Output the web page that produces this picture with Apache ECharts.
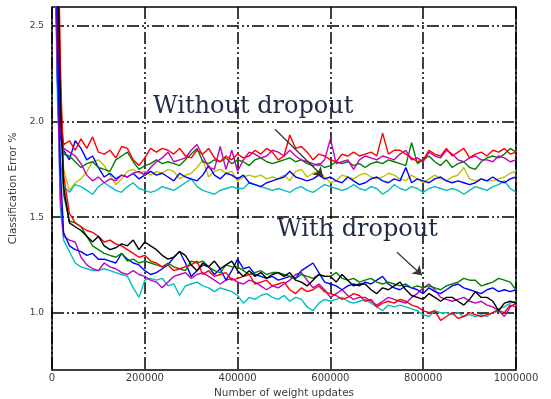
<!DOCTYPE html>
<html>
<head>
<meta charset="utf-8">
<script src="https://cdn.jsdelivr.net/npm/echarts@6/dist/echarts.min.js"></script>
<style>
  html, body { margin: 0; padding: 0; background: #fff; }
  #chart { width: 551px; height: 399px; }
</style>
</head>
<body>
<div id="chart"></div>
<script>
// Sample positions (number of weight updates) shared by every run
const updates = [0, 6000, 12000, 18000, 25000, 37500, 50000, 62500, 75000, 87500,
  100000, 112500, 125000, 137500, 150000, 162500, 175000, 187500, 200000, 212500,
  225000, 237500, 250000, 262500, 275000, 287500, 300000, 312500, 325000, 337500,
  350000, 362500, 375000, 387500, 400000, 412500, 425000, 437500, 450000, 462500,
  475000, 487500, 500000, 512500, 525000, 537500, 550000, 562500, 575000, 587500,
  600000, 612500, 625000, 637500, 650000, 662500, 675000, 687500, 700000, 712500,
  725000, 737500, 750000, 762500, 775000, 787500, 800000, 812500, 825000, 837500,
  850000, 862500, 875000, 887500, 900000, 912500, 925000, 937500, 950000, 962500,
  975000, 987500, 1000000];

// Test classification error (%) for networks trained without dropout
const noDropRed = [5.0, 3.6, 2.7, 2.05, 1.88,
  1.90, 1.85, 1.91, 1.86, 1.92, 1.84, 1.83, 1.85, 1.81, 1.87, 1.86, 1.80, 1.77, 1.81, 1.86, 1.84, 1.86, 1.85,
  1.83, 1.86, 1.82, 1.81, 1.85, 1.83, 1.86, 1.81, 1.79, 1.82, 1.80, 1.83, 1.81, 1.82, 1.85, 1.83, 1.86, 1.84, 1.80,
  1.82, 1.93, 1.86, 1.87, 1.84, 1.80, 1.83, 1.82, 1.80, 1.79, 1.83, 1.82, 1.84, 1.82, 1.83, 1.84, 1.82, 1.94, 1.83, 1.85,
  1.85, 1.83, 1.81, 1.79, 1.80, 1.85, 1.83, 1.82, 1.86, 1.82, 1.84, 1.86, 1.81, 1.83, 1.84, 1.82, 1.85, 1.84, 1.86, 1.83, 1.84];
const noDropMagenta = [5.0, 3.2, 2.4, 1.95, 1.86,
  1.84, 1.82, 1.78, 1.72, 1.69, 1.71, 1.68, 1.70, 1.69, 1.72, 1.71, 1.73, 1.74, 1.72, 1.76, 1.79, 1.81, 1.84,
  1.79, 1.80, 1.81, 1.85, 1.88, 1.82, 1.76, 1.75, 1.87, 1.75, 1.85, 1.74, 1.80, 1.84, 1.83, 1.81, 1.82, 1.85, 1.84, 1.82,
  1.85, 1.82, 1.80, 1.79, 1.78, 1.77, 1.80, 1.91, 1.78, 1.79, 1.80, 1.75, 1.80, 1.82, 1.81, 1.80, 1.82, 1.81, 1.80,
  1.83, 1.85, 1.80, 1.81, 1.79, 1.84, 1.82, 1.81, 1.85, 1.83, 1.80, 1.79, 1.81, 1.82, 1.80, 1.80, 1.79, 1.82, 1.81, 1.79, 1.80];
const noDropGreen = [5.0, 3.4, 2.5, 1.98, 1.83,
  1.82, 1.79, 1.76, 1.78, 1.79, 1.76, 1.75, 1.74, 1.80, 1.82, 1.84, 1.79, 1.75, 1.77, 1.78, 1.80, 1.78, 1.79,
  1.78, 1.77, 1.80, 1.83, 1.86, 1.79, 1.78, 1.80, 1.79, 1.81, 1.78, 1.80, 1.79, 1.77, 1.80, 1.81, 1.79, 1.78, 1.79, 1.80,
  1.81, 1.79, 1.80, 1.78, 1.77, 1.78, 1.76, 1.77, 1.79, 1.78, 1.79, 1.77, 1.78, 1.76, 1.78, 1.79, 1.78, 1.80, 1.79,
  1.78, 1.77, 1.89, 1.78, 1.80, 1.82, 1.79, 1.77, 1.80, 1.76, 1.78, 1.79, 1.76, 1.75, 1.79, 1.81, 1.82, 1.81, 1.83, 1.86, 1.84];
const noDropBlue = [5.0, 3.0, 2.2, 1.92, 1.85,
  1.80, 1.90, 1.86, 1.80, 1.82, 1.76, 1.71, 1.73, 1.70, 1.72, 1.71, 1.73, 1.70, 1.72, 1.74, 1.72, 1.73, 1.71,
  1.69, 1.73, 1.71, 1.70, 1.69, 1.72, 1.77, 1.72, 1.70, 1.73, 1.72, 1.70, 1.72, 1.68, 1.67, 1.66, 1.68, 1.69, 1.70, 1.71,
  1.74, 1.71, 1.70, 1.69, 1.70, 1.72, 1.70, 1.71, 1.69, 1.68, 1.71, 1.69, 1.67, 1.68, 1.70, 1.71, 1.69, 1.68, 1.70,
  1.69, 1.76, 1.68, 1.70, 1.69, 1.68, 1.70, 1.71, 1.69, 1.68, 1.69, 1.68, 1.67, 1.68, 1.70, 1.69, 1.71, 1.69, 1.68, 1.70, 1.71];
const noDropYellow = [5.0, 4.0, 3.0, 2.1, 1.75,
  1.64, 1.68, 1.70, 1.74, 1.79, 1.80, 1.77, 1.72, 1.67, 1.70, 1.74, 1.75, 1.73, 1.74, 1.72, 1.74, 1.73, 1.75,
  1.74, 1.70, 1.72, 1.73, 1.76, 1.80, 1.71, 1.74, 1.75, 1.73, 1.74, 1.69, 1.71, 1.72, 1.71, 1.72, 1.70, 1.71, 1.70, 1.72,
  1.69, 1.74, 1.75, 1.71, 1.73, 1.74, 1.71, 1.68, 1.69, 1.72, 1.71, 1.70, 1.72, 1.73, 1.71, 1.70, 1.71, 1.73, 1.72,
  1.70, 1.69, 1.72, 1.70, 1.68, 1.70, 1.72, 1.70, 1.69, 1.71, 1.72, 1.76, 1.70, 1.69, 1.70, 1.69, 1.69, 1.70, 1.71, 1.73, 1.74];
const noDropCyan = [5.0, 2.9, 2.1, 1.8, 1.66,
  1.63, 1.67, 1.66, 1.64, 1.62, 1.66, 1.68, 1.66, 1.64, 1.63, 1.66, 1.68, 1.65, 1.64, 1.63, 1.64, 1.66, 1.65,
  1.64, 1.66, 1.68, 1.70, 1.66, 1.64, 1.63, 1.62, 1.64, 1.65, 1.66, 1.65, 1.65, 1.68, 1.67, 1.66, 1.65, 1.64, 1.65, 1.64,
  1.63, 1.65, 1.66, 1.64, 1.63, 1.65, 1.67, 1.66, 1.65, 1.64, 1.65, 1.67, 1.65, 1.64, 1.66, 1.65, 1.62, 1.64, 1.67,
  1.65, 1.64, 1.66, 1.65, 1.63, 1.65, 1.66, 1.65, 1.64, 1.65, 1.64, 1.62, 1.64, 1.66, 1.65, 1.64, 1.66, 1.67, 1.69, 1.65, 1.63];

// Test classification error (%) for networks trained with dropout
const dropBlack = [5.0, 3.8, 2.9, 2.1, 1.66,
  1.47, 1.45, 1.43, 1.40, 1.37, 1.40, 1.35, 1.33, 1.34, 1.36, 1.35, 1.38, 1.33, 1.37, 1.35, 1.33, 1.30, 1.28,
  1.29, 1.32, 1.30, 1.25, 1.22, 1.26, 1.24, 1.27, 1.23, 1.25, 1.27, 1.22, 1.19, 1.22, 1.19, 1.21, 1.18, 1.20, 1.21, 1.19,
  1.21, 1.17, 1.16, 1.14, 1.17, 1.20, 1.19, 1.19, 1.16, 1.20, 1.17, 1.14, 1.15, 1.15, 1.12, 1.10, 1.13, 1.12, 1.14,
  1.16, 1.12, 1.09, 1.08, 1.07, 1.10, 1.08, 1.06, 1.08, 1.08, 1.06, 1.04, 1.07, 1.11, 1.08, 1.08, 1.06, 1.01, 1.05, 1.06, 1.05];
const dropRed = [5.0, 4.2, 3.2, 2.3, 1.72,
  1.52, 1.47, 1.45, 1.43, 1.42, 1.40, 1.37, 1.38, 1.36, 1.35, 1.33, 1.31, 1.29, 1.30, 1.27, 1.26, 1.24, 1.25,
  1.22, 1.23, 1.24, 1.25, 1.27, 1.20, 1.22, 1.19, 1.20, 1.21, 1.17, 1.18, 1.19, 1.20, 1.15, 1.16, 1.17, 1.14, 1.15, 1.16,
  1.12, 1.10, 1.13, 1.11, 1.12, 1.14, 1.11, 1.10, 1.09, 1.07, 1.08, 1.10, 1.09, 1.06, 1.07, 1.03, 1.05, 1.06, 1.05,
  1.07, 1.06, 1.04, 1.03, 1.01, 1.00, 1.01, 0.96, 0.98, 1.00, 0.97, 0.98, 1.00, 0.99, 0.98, 0.99, 1.00, 1.01, 1.00, 1.04, 1.03];
const dropGreen = [5.0, 3.9, 3.0, 2.2, 1.62,
  1.48, 1.47, 1.45, 1.40, 1.35, 1.33, 1.31, 1.30, 1.29, 1.31, 1.27, 1.28, 1.26, 1.27, 1.26, 1.25, 1.24, 1.26,
  1.24, 1.23, 1.22, 1.27, 1.26, 1.27, 1.24, 1.22, 1.21, 1.25, 1.24, 1.24, 1.22, 1.20, 1.21, 1.22, 1.20, 1.21, 1.21, 1.20,
  1.19, 1.18, 1.20, 1.19, 1.18, 1.20, 1.19, 1.19, 1.21, 1.18, 1.17, 1.18, 1.16, 1.17, 1.18, 1.16, 1.15, 1.16, 1.15,
  1.14, 1.15, 1.13, 1.14, 1.13, 1.14, 1.13, 1.12, 1.14, 1.15, 1.16, 1.18, 1.17, 1.17, 1.14, 1.15, 1.16, 1.18, 1.17, 1.16, 1.12];
const dropBlue = [5.0, 3.4, 2.4, 1.75, 1.42,
  1.35, 1.33, 1.32, 1.30, 1.31, 1.28, 1.28, 1.27, 1.26, 1.31, 1.28, 1.26, 1.25, 1.22, 1.20, 1.21, 1.23, 1.25,
  1.29, 1.32, 1.26, 1.19, 1.22, 1.25, 1.24, 1.20, 1.23, 1.17, 1.22, 1.28, 1.23, 1.24, 1.20, 1.19, 1.18, 1.19, 1.17, 1.18,
  1.19, 1.18, 1.22, 1.24, 1.26, 1.21, 1.16, 1.15, 1.14, 1.12, 1.14, 1.15, 1.14, 1.16, 1.15, 1.17, 1.19, 1.15, 1.13,
  1.12, 1.14, 1.13, 1.12, 1.10, 1.13, 1.11, 1.10, 1.12, 1.14, 1.15, 1.13, 1.12, 1.11, 1.10, 1.12, 1.13, 1.11, 1.12, 1.11, 1.12];
const dropMagenta = [5.0, 3.0, 2.2, 1.6, 1.40,
  1.38, 1.37, 1.29, 1.25, 1.23, 1.22, 1.26, 1.24, 1.23, 1.21, 1.20, 1.22, 1.20, 1.19, 1.17, 1.16, 1.13, 1.16,
  1.19, 1.20, 1.21, 1.18, 1.20, 1.21, 1.19, 1.17, 1.15, 1.17, 1.18, 1.16, 1.15, 1.17, 1.16, 1.14, 1.12, 1.14, 1.13, 1.15,
  1.17, 1.20, 1.21, 1.17, 1.13, 1.15, 1.12, 1.08, 1.10, 1.12, 1.09, 1.07, 1.08, 1.08, 1.06, 1.04, 1.06, 1.08, 1.07,
  1.06, 1.05, 1.08, 1.10, 1.13, 1.15, 1.12, 1.08, 1.07, 1.06, 1.07, 1.08, 1.06, 1.05, 1.06, 1.04, 1.03, 1.01, 0.98, 1.03, 1.05];
const dropCyan = [5.0, 3.1, 2.2, 1.55, 1.38,
  1.32, 1.26, 1.24, 1.23, 1.22, 1.22, 1.23, 1.22, 1.21, 1.20, 1.19, 1.13, 1.08, 1.17, 1.18, 1.17, 1.18, 1.14,
  1.15, 1.09, 1.14, 1.15, 1.16, 1.14, 1.13, 1.11, 1.13, 1.12, 1.11, 1.09, 1.05, 1.08, 1.07, 1.09, 1.10, 1.08, 1.07, 1.09,
  1.06, 1.08, 1.07, 1.03, 1.01, 1.05, 1.07, 1.06, 1.07, 1.08, 1.06, 1.05, 1.06, 1.07, 1.05, 1.03, 1.01, 1.04, 1.03,
  1.04, 1.03, 1.02, 1.01, 0.99, 0.98, 1.01, 1.00, 1.00, 0.99, 1.00, 0.98, 0.99, 0.98, 0.99, 0.98, 1.00, 1.02, 1.03, 1.05, 1.06];

// Axis ticks
const yTicks = [1.0, 1.5, 2.0, 2.5];
const xTicks = [0, 200000, 400000, 600000, 800000, 1000000];

// Arrow annotations: [start, end] in data coordinates
const arrowWithout = [[480600, 1.96], [584000, 1.713]];
const arrowWith = [[743500, 1.316], [797400, 1.196]];

const runs = [
  { name: 'no dropout (yellow)', color: '#bfbf00', values: noDropYellow },
  { name: 'no dropout (cyan)', color: '#00bfbf', values: noDropCyan },
  { name: 'no dropout (blue)', color: '#0000ff', values: noDropBlue },
  { name: 'no dropout (green)', color: '#008000', values: noDropGreen },
  { name: 'no dropout (magenta)', color: '#bf00bf', values: noDropMagenta },
  { name: 'no dropout (red)', color: '#ff0000', values: noDropRed },
  { name: 'dropout (cyan)', color: '#00bfbf', values: dropCyan },
  { name: 'dropout (magenta)', color: '#bf00bf', values: dropMagenta },
  { name: 'dropout (blue)', color: '#0000ff', values: dropBlue },
  { name: 'dropout (green)', color: '#008000', values: dropGreen },
  { name: 'dropout (red)', color: '#ff0000', values: dropRed },
  { name: 'dropout (black)', color: '#000000', values: dropBlack }
];

const gridDash = [12, 3, 2, 3, 2, 3];
const xTickFont = { fontFamily: 'DejaVu Sans', fontSize: 10, color: '#3a3a3a' };
const yTickFont = { fontFamily: 'DejaVu Sans', fontSize: 9, color: '#3a3a3a' };
const nameFont = { fontFamily: 'DejaVu Sans', fontSize: 10.5, color: '#3a3a3a' };

const series = runs.map(function (r) {
  return {
    name: r.name,
    type: 'line',
    data: updates.map(function (x, i) { return [x, r.values[i]]; }),
    showSymbol: false,
    symbol: 'none',
    clip: true,
    lineStyle: { color: r.color, width: 1.4 },
    itemStyle: { color: r.color }
  };
});

// Arrows pointing at the two groups of curves
series.push({
  type: 'line',
  data: [],
  silent: true,
  markLine: {
    silent: true,
    symbol: ['none', 'arrow'],
    symbolSize: 9,
    label: { show: false },
    lineStyle: { color: '#333', width: 1.2, type: 'solid' },
    emphasis: { disabled: true },
    data: [
      [{ coord: arrowWithout[0] }, { coord: arrowWithout[1] }],
      [{ coord: arrowWith[0] }, { coord: arrowWith[1] }]
    ]
  }
});

const chart = echarts.init(document.getElementById('chart'), null, { renderer: 'canvas' });
chart.setOption({
  animation: false,
  backgroundColor: '#ffffff',
  grid: {
    left: 52, right: 35, top: 7, bottom: 29,
    containLabel: false,
    outerBoundsMode: 'none',
    show: true, borderColor: '#000', borderWidth: 1.5, backgroundColor: 'transparent'
  },
  xAxis: {
    type: 'value',
    min: 0, max: 1000000, interval: 200000,
    name: 'Number of weight updates',
    nameLocation: 'middle',
    nameGap: 15,
    nameTextStyle: nameFont,
    axisLine: { show: false },
    axisTick: { show: false, customValues: xTicks },
    axisLabel: Object.assign({ margin: 3, customValues: xTicks, formatter: function (v) { return String(v); } }, xTickFont),
    splitLine: { show: true, lineStyle: { color: '#000', width: 1.5, type: gridDash } }
  },
  yAxis: {
    type: 'value',
    min: 0.7, max: 2.6,
    name: 'Classification Error %',
    nameLocation: 'middle',
    nameRotate: 90,
    nameGap: 24,
    nameTextStyle: nameFont,
    axisLine: { show: false },
    axisTick: { show: false, customValues: yTicks },
    axisLabel: Object.assign({ margin: 8, customValues: yTicks, formatter: function (v) { return v.toFixed(1); } }, yTickFont),
    splitLine: { show: true, lineStyle: { color: '#000', width: 1.5, type: gridDash } }
  },
  graphic: [
    {
      type: 'text', left: 153, top: 95, z: 100,
      style: { text: 'Without dropout', font: '24px "DejaVu Serif"', fill: '#1e2a48' }
    },
    {
      type: 'text', left: 277, top: 218, z: 100,
      style: { text: 'With dropout', font: '24px "DejaVu Serif"', fill: '#1e2a48' }
    }
  ],
  series: series
});
</script>
</body>
</html>
